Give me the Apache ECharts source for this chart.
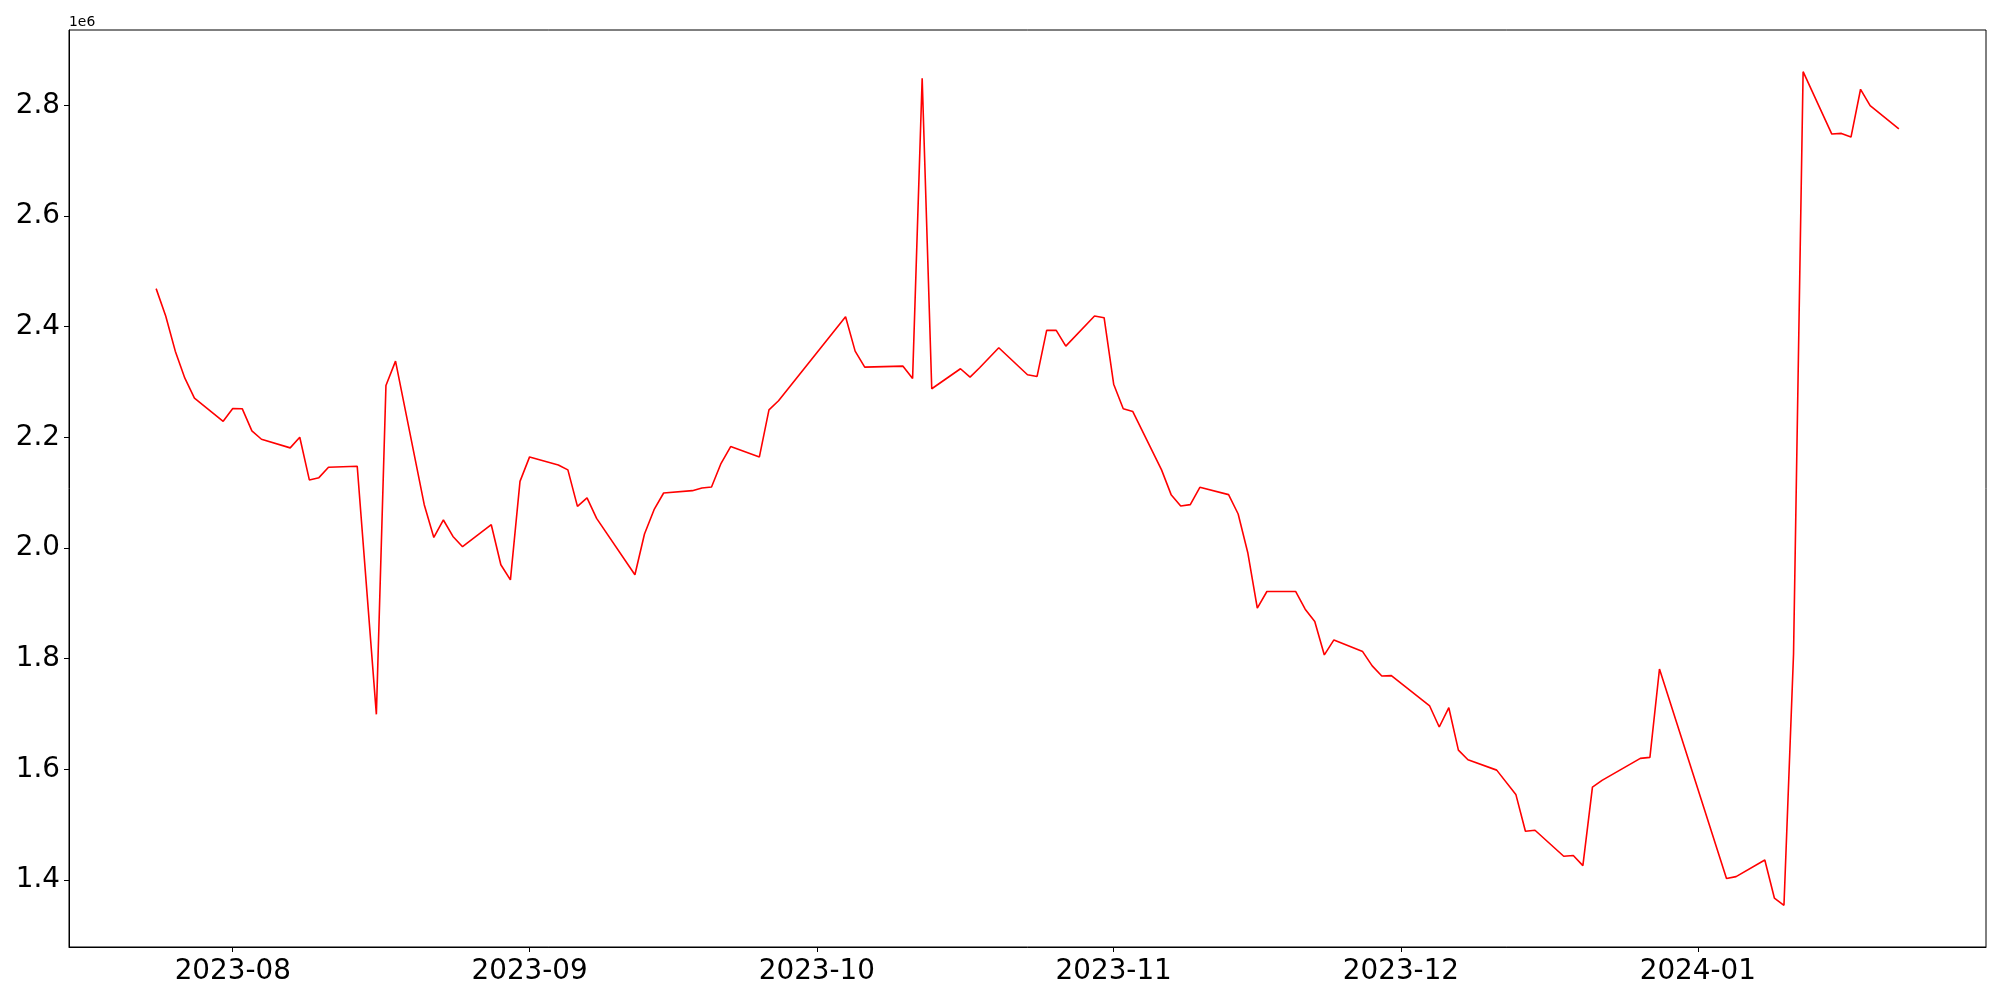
<!DOCTYPE html>
<html>
<head>
<meta charset="utf-8">
<script src="https://cdn.jsdelivr.net/npm/echarts@6/dist/echarts.min.js"></script>
<style>
html,body{margin:0;padding:0;background:#fff;}
#chart{width:2000px;height:1000px;}
</style>
</head>
<body>
<div id="chart"></div>
<script>
// ---- data ----
const dates = [
"2023-07-24","2023-07-25","2023-07-26","2023-07-27","2023-07-28","2023-07-31",
"2023-08-01","2023-08-02","2023-08-03","2023-08-04","2023-08-07","2023-08-08","2023-08-09","2023-08-10","2023-08-11",
"2023-08-14","2023-08-16","2023-08-17","2023-08-18","2023-08-21","2023-08-22","2023-08-23","2023-08-24","2023-08-25",
"2023-08-28","2023-08-29","2023-08-30","2023-08-31","2023-09-01","2023-09-04","2023-09-05","2023-09-06","2023-09-07",
"2023-09-08","2023-09-12","2023-09-13","2023-09-14","2023-09-15","2023-09-18","2023-09-19","2023-09-20","2023-09-21",
"2023-09-22","2023-09-25","2023-09-26","2023-09-27","2023-10-04","2023-10-05","2023-10-06","2023-10-10","2023-10-11",
"2023-10-12","2023-10-13","2023-10-16","2023-10-17","2023-10-18","2023-10-20","2023-10-23","2023-10-24","2023-10-25",
"2023-10-26","2023-10-27","2023-10-30","2023-10-31","2023-11-01","2023-11-02","2023-11-03","2023-11-06","2023-11-07",
"2023-11-08","2023-11-09","2023-11-10","2023-11-13","2023-11-14","2023-11-15","2023-11-16","2023-11-17","2023-11-20",
"2023-11-21","2023-11-22","2023-11-23","2023-11-24","2023-11-27","2023-11-28","2023-11-29","2023-11-30","2023-12-04",
"2023-12-05","2023-12-06","2023-12-07","2023-12-08","2023-12-11","2023-12-13","2023-12-14","2023-12-15","2023-12-18",
"2023-12-19","2023-12-20","2023-12-21","2023-12-22","2023-12-26","2023-12-27","2023-12-28","2024-01-04","2024-01-05",
"2024-01-08","2024-01-09","2024-01-10","2024-01-11","2024-01-12","2024-01-15","2024-01-16","2024-01-17","2024-01-18",
"2024-01-19","2024-01-22"
];
const values = [
2468800,2419200,2355800,2307000,2270800,2229100,
2252100,2251600,2211800,2196600,2181000,2200200,2123100,2127200,2145900,
2147700,1699500,2293800,2337700,2078400,2019200,2050700,2021000,2002400,
2042200,1969800,1942600,2120500,2164700,2150200,2141200,2075300,2090500,
2053600,1951700,2025300,2069300,2099500,2103700,2108600,2110400,2153100,
2183300,2164700,2249800,2266100,2418100,2355800,2326900,2328700,2306400,
2848900,2287800,2324000,2308800,2325800,2362000,2313100,2310100,2393300,
2393300,2364900,2419200,2416300,2296100,2251600,2246700,2141200,2096500,
2076000,2078400,2109700,2096500,2061500,1992000,1891400,1921500,1921500,
1889600,1867200,1806900,1834000,1812900,1787000,1768900,1769400,1714600,
1676600,1711500,1634900,1617400,1598700,1554800,1488300,1490100,1443100,
1444300,1426200,1568000,1580100,1619900,1621700,1781500,1402700,1406300,
1436400,1367600,1354400,1808700,2860800,2748100,2749300,2742600,2829000,
2799300,2757600
];
const xTickLabels = ["2023-08","2023-09","2023-10","2023-11","2023-12","2024-01"];
const yTickValues = [1400000,1600000,1800000,2000000,2200000,2400000,2600000,2800000];
const offsetLabel = "1e6";

// ---- build ----
function ts(s){const p=s.split('-').map(Number);return Date.UTC(p[0],p[1]-1,p[2]||1);}
const xs = dates.map(ts);
const seriesData = xs.map((t,i)=>[t,values[i]]);
const xMinD = Math.min(...xs), xMaxD = Math.max(...xs);
const xPad = (xMaxD-xMinD)*0.05;
const yMinD = Math.min(...values), yMaxD = Math.max(...values);
const yPad = (yMaxD-yMinD)*0.05;
const xTickTs = xTickLabels.map(ts);

const chart = echarts.init(document.getElementById('chart'), null, {renderer:'canvas'});
const FONT = 'DejaVu Sans';
chart.setOption({
  animation: false,
  backgroundColor: '#fff',
  grid: {left:69, top:30, width:1917, height:917, show:true, borderColor:'#000', borderWidth:1, backgroundColor:'transparent'},
  xAxis: {
    type:'value', min:xMinD-xPad, max:xMaxD+xPad, scale:true,
    axisLine:{show:true, onZero:false, lineStyle:{color:'#000', width:1}},
    axisTick:{show:true, length:5, inside:false, lineStyle:{color:'#000', width:1}, customValues:xTickTs},
    axisLabel:{show:true, customValues:xTickTs, margin:11, color:'#000', fontFamily:FONT, fontSize:27.8,
      formatter:function(v){const d=new Date(v);return d.getUTCFullYear()+'-'+String(d.getUTCMonth()+1).padStart(2,'0');}},
    splitLine:{show:false}
  },
  yAxis: {
    type:'value', min:yMinD-yPad, max:yMaxD+yPad, scale:true,
    axisLine:{show:true, onZero:false, lineStyle:{color:'#000', width:1}},
    axisTick:{show:true, length:5, lineStyle:{color:'#000', width:1}, customValues:yTickValues},
    axisLabel:{show:true, customValues:yTickValues, margin:9, color:'#000', fontFamily:FONT, fontSize:27.8,
      formatter:function(v){return (v/1e6).toFixed(1);}},
    splitLine:{show:false}
  },
  graphic:[{type:'text', left:69, top:15, style:{text:offsetLabel, fontFamily:FONT, fontSize:13.9, fill:'#000'}}],
  series:[{type:'line', data:seriesData, showSymbol:false, symbol:'none',
    lineStyle:{color:'#ff0000', width:1.6}, itemStyle:{color:'#ff0000'}, emphasis:{disabled:true}}]
});
</script>
</body>
</html>
